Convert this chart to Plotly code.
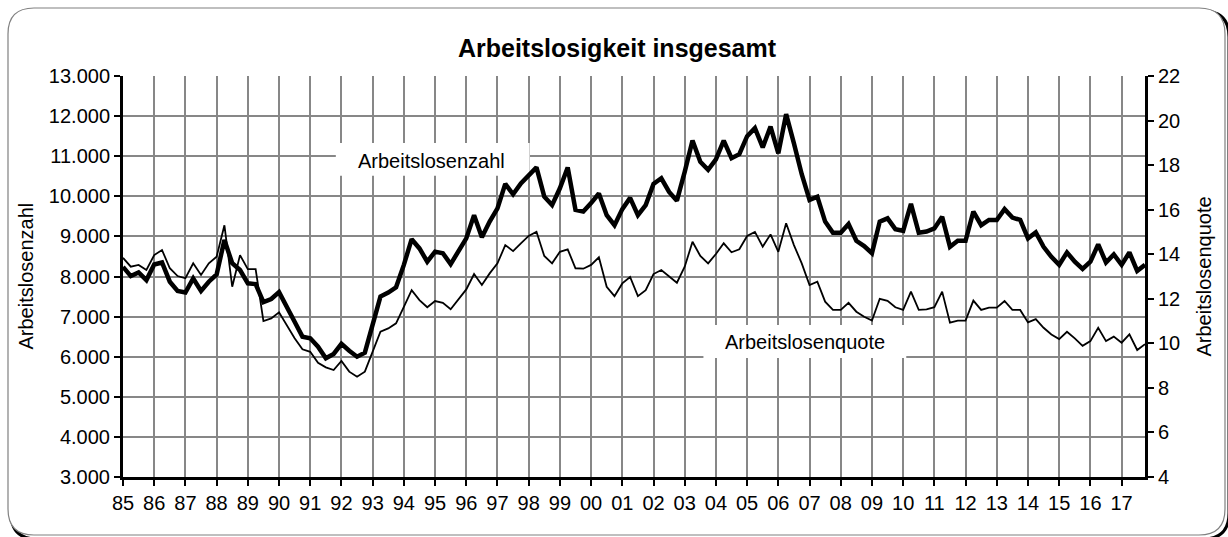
import plotly.graph_objects as go

# Quarterly data 1985Q1 .. 2017Q4
start_year = 1985
n_years = 33
year_labels = ["85", "86", "87", "88", "89", "90", "91", "92", "93", "94", "95", "96",
               "97", "98", "99", "00", "01", "02", "03", "04", "05", "06", "07", "08",
               "09", "10", "11", "12", "13", "14", "15", "16", "17"]

# Arbeitslosenzahl (left axis)
arbeitslosenzahl = [
    8240, 8010, 8100, 7910,
    8300, 8350, 7870, 7640,
    7600, 7950, 7640, 7870,
    8050, 8910, 8330, 8160,
    7830, 7810, 7360, 7440,
    7610, 7210, 6870, 6500,
    6460, 6250, 5960, 6070,
    6320, 6150, 6000, 6100,
    6790, 7500, 7600, 7730,
    8290, 8930, 8700, 8370,
    8620, 8580, 8310, 8620,
    8950, 9530, 8980, 9370,
    9700, 10310, 10050, 10320,
    10530, 10720, 9990, 9780,
    10200, 10720, 9660, 9620,
    9830, 10070, 9530, 9280,
    9680, 9960, 9530, 9780,
    10310, 10450, 10110, 9890,
    10610, 11390, 10860, 10660,
    10920, 11390, 10950, 11050,
    11500, 11700, 11220, 11740,
    11070, 12050, 11320, 10550,
    9910, 9990, 9370, 9090,
    9090, 9310, 8890, 8760,
    8580, 9370, 9450, 9180,
    9140, 9810, 9090, 9120,
    9200, 9490, 8740, 8890,
    8890, 9620, 9280, 9410,
    9410, 9680, 9470, 9410,
    8950, 9100, 8740, 8490,
    8290, 8600, 8370, 8190,
    8370, 8800, 8350, 8550,
    8290, 8600, 8140, 8290,
]

# Arbeitslosenquote in % (right axis)
arbeitslosenquote = [
    13.84, 13.44, 13.52, 13.29,
    13.96, 14.19, 13.37, 13.02,
    12.92, 13.59, 13.07, 13.59,
    13.89, 15.30, 12.54, 13.96,
    13.33, 13.33, 11.00, 11.12,
    11.39, 10.80, 10.23, 9.73,
    9.62, 9.13, 8.92, 8.80,
    9.21, 8.73, 8.50, 8.73,
    9.62, 10.52, 10.67, 10.90,
    11.64, 12.39, 11.94, 11.62,
    11.90, 11.82, 11.53, 11.98,
    12.42, 13.11, 12.62, 13.14,
    13.59, 14.41, 14.14, 14.49,
    14.82, 15.01, 13.92, 13.59,
    14.11, 14.22, 13.37, 13.35,
    13.52, 13.86, 12.54, 12.12,
    12.69, 12.98, 12.12, 12.39,
    13.11, 13.29, 12.99, 12.72,
    13.44, 14.56, 13.92, 13.59,
    14.01, 14.49, 14.09, 14.22,
    14.82, 15.00, 14.34, 14.89,
    14.11, 15.39, 14.41, 13.59,
    12.62, 12.77, 11.87, 11.50,
    11.50, 11.82, 11.42, 11.19,
    11.02, 12.00, 11.91, 11.62,
    11.50, 12.32, 11.50, 11.52,
    11.62, 12.32, 10.93, 11.02,
    11.02, 11.92, 11.50, 11.60,
    11.60, 11.90, 11.50, 11.50,
    10.94, 11.09, 10.70, 10.40,
    10.19, 10.52, 10.22, 9.89,
    10.10, 10.70, 10.10, 10.30,
    10.03, 10.40, 9.70, 9.96,
]

x_quarters = [start_year + i * 0.25 for i in range(len(arbeitslosenzahl))]
year_ticks = [start_year + i for i in range(n_years)]

FONT = "Liberation Sans, Arial, sans-serif"
GRID = "#878787"

W, H = 1228, 537
ML, MR, MT, MB = 123, 83, 76, 60
PW, PH = W - ML - MR, H - MT - MB


def px2paper(px, py):
    return (px - ML) / PW, (H - MB - py) / PH


fig = go.Figure()

fig.add_trace(go.Scatter(
    x=x_quarters, y=arbeitslosenquote, yaxis="y2", mode="lines",
    line=dict(color="black", width=1.8), name="Arbeitslosenquote",
    showlegend=False, hoverinfo="skip"))
fig.add_trace(go.Scatter(
    x=x_quarters, y=arbeitslosenzahl, mode="lines",
    line=dict(color="black", width=4.5), name="Arbeitslosenzahl",
    showlegend=False, hoverinfo="skip"))

# white label boxes (above gridlines, below lines)
fig.add_shape(type="rect", xref="x", yref="y", layer="between",
              x0=1991.82, x1=1998.03, y0=10510, y1=11330,
              line=dict(width=0), fillcolor="white")
fig.add_shape(type="rect", xref="x", yref="y", layer="between",
              x0=2003.6, x1=2010.1, y0=5970, y1=6790,
              line=dict(width=0), fillcolor="white")

fig.add_annotation(x=1994.9, y=10880, xref="x", yref="y", text="Arbeitslosenzahl",
                   showarrow=False, font=dict(family=FONT, size=20, color="black"))
fig.add_annotation(x=2006.85, y=6370, xref="x", yref="y", text="Arbeitslosenquote",
                   showarrow=False, font=dict(family=FONT, size=20, color="black"))

# axis titles
lx, _ = px2paper(25, 0)
rx, _ = px2paper(1203, 0)
fig.add_annotation(x=lx, y=0.5, xref="paper", yref="paper", text="Arbeitslosenzahl",
                   textangle=-90, showarrow=False, xanchor="center", yanchor="middle",
                   font=dict(family=FONT, size=20, color="black"))
fig.add_annotation(x=rx, y=0.5, xref="paper", yref="paper", text="Arbeitslosenquote",
                   textangle=-90, showarrow=False, xanchor="center", yanchor="middle",
                   font=dict(family=FONT, size=20, color="black"))

# outer rounded frame
def rounded_path(x0, y0, x1, y1, r):
    ax0, ay0 = px2paper(x0, y0)
    ax1, ay1 = px2paper(x1, y1)
    rx_ = r / PW
    ry_ = r / PH
    return (f"M {ax0 + rx_},{ay0} L {ax1 - rx_},{ay0} Q {ax1},{ay0} {ax1},{ay0 - ry_} "
            f"L {ax1},{ay1 + ry_} Q {ax1},{ay1} {ax1 - rx_},{ay1} "
            f"L {ax0 + rx_},{ay1} Q {ax0},{ay1} {ax0},{ay1 + ry_} "
            f"L {ax0},{ay0 - ry_} Q {ax0},{ay0} {ax0 + rx_},{ay0} Z")

fig.add_shape(type="path", xref="paper", yref="paper", layer="below",
              path=rounded_path(11, 11, 1229, 539, 26),
              line=dict(color="black", width=3))
fig.add_shape(type="path", xref="paper", yref="paper", layer="below",
              path=rounded_path(8, 8, 1225, 535, 26),
              line=dict(color="#808080", width=1.2), fillcolor="white")

fig.update_layout(
    width=W, height=H,
    margin=dict(l=ML, r=MR, t=MT, b=MB),
    paper_bgcolor="white", plot_bgcolor="white",
    separators=",.",
    font=dict(family=FONT, size=20, color="black"),
    title=dict(text="<b>Arbeitslosigkeit insgesamt</b>", x=617 / W, xanchor="center",
               y=1 - 48 / H, yanchor="middle",
               font=dict(family=FONT, size=25, color="black")),
    xaxis=dict(range=[start_year, start_year + n_years - 0.25],
               tickmode="array", tickvals=year_ticks, ticktext=year_labels,
               showgrid=True, gridcolor=GRID, gridwidth=2,
               showline=True, linecolor="black", linewidth=3,
               ticks="outside", ticklen=6, tickwidth=2, tickcolor="black",
               zeroline=False, tickfont=dict(size=20)),
    yaxis=dict(range=[3000, 13000], dtick=1000, tick0=3000, tickformat=",.0f",
               showgrid=True, gridcolor=GRID, gridwidth=2,
               showline=True, linecolor="black", linewidth=3,
               ticks="outside", ticklen=6, tickwidth=2, tickcolor="black",
               zeroline=False, tickfont=dict(size=20)),
    yaxis2=dict(range=[4, 22], dtick=2, tick0=4, overlaying="y", side="right",
                showgrid=False, showline=True, linecolor="black", linewidth=3,
                ticks="outside", ticklen=6, tickwidth=2, tickcolor="black",
                zeroline=False, tickfont=dict(size=20)),
)

fig.write_html("out.html",
               config={"displayModeBar": False},
               post_script="document.body.style.margin='0';document.body.style.overflow='hidden';")
